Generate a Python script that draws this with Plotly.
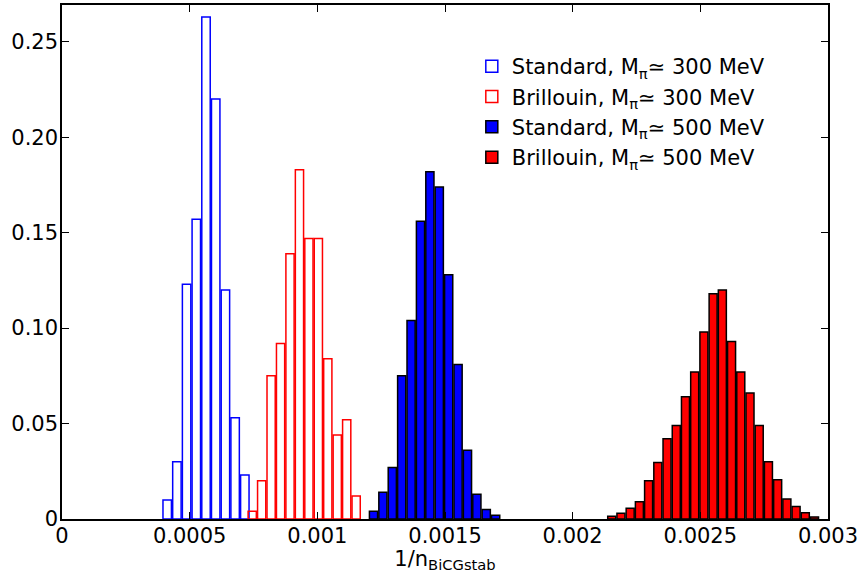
import numpy as np
import plotly.graph_objects as go

# ---- data (fractions per bin) ----
std300_start, std300_binw = 0.000412, 0.0000380
std300_frac = [0.010, 0.030, 0.123, 0.157, 0.263, 0.220, 0.120, 0.053, 0.023]

bri300_start, bri300_binw = 0.000745, 0.0000370
bri300_frac = [0.004, 0.020, 0.075, 0.092, 0.139, 0.183, 0.147, 0.147,
               0.084, 0.044, 0.052, 0.012]

std500_start, std500_binw = 0.001220, 0.0000368
std500_frac = [0.004, 0.014, 0.027, 0.075, 0.104, 0.156, 0.182, 0.174,
               0.128, 0.081, 0.036, 0.013, 0.005, 0.002]

bri500_start, bri500_binw = 0.002153, 0.0000361
bri500_frac = [0.0014, 0.003, 0.0056, 0.0091, 0.020, 0.0296, 0.042, 0.049,
               0.064, 0.077, 0.098, 0.118, 0.120, 0.093, 0.077, 0.066,
               0.049, 0.030, 0.0205, 0.0105, 0.0065, 0.0033, 0.0011]

x_tickvals = [0, 0.0005, 0.001, 0.0015, 0.002, 0.0025, 0.003]
x_ticktext = ["0", "0.0005", "0.001", "0.0015", "0.002", "0.0025", "0.003"]
y_tickvals = [0, 0.05, 0.10, 0.15, 0.20, 0.25]
y_ticktext = ["0", "0.05", "0.10", "0.15", "0.20", "0.25"]

names = ["Standard, M<sub>π</sub>≃ 300 MeV",
         "Brillouin, M<sub>π</sub>≃ 300 MeV",
         "Standard, M<sub>π</sub>≃ 500 MeV",
         "Brillouin, M<sub>π</sub>≃ 500 MeV"]

FONT = "DejaVu Sans"
FS = 21
fig = go.Figure()

series = [
    (std300_start, std300_binw, std300_frac, "rgba(0,0,0,0)", "#0000ff"),
    (bri300_start, bri300_binw, bri300_frac, "rgba(0,0,0,0)", "#ff0000"),
    (std500_start, std500_binw, std500_frac, "#0000ff", "#000000"),
    (bri500_start, bri500_binw, bri500_frac, "#ff0000", "#000000"),
]
for i, (start, bw, frac, fill, edge) in enumerate(series):
    centers = start + bw * np.arange(len(frac))
    fig.add_trace(go.Bar(
        x=centers, y=frac, width=[bw * 0.87] * len(frac),
        name=names[i], legendgroup=f"g{i}",
        marker=dict(color=fill, line=dict(color=edge, width=1.5)),
    ))

fig.update_layout(
    width=861, height=573,
    margin=dict(l=62, r=33, t=5, b=54),
    paper_bgcolor="white", plot_bgcolor="white",
    barmode="overlay",
    font=dict(family=FONT, size=FS, color="black"),
    showlegend=True,
    legend=dict(x=0.535, y=0.92, xanchor="left", yanchor="top",
                bgcolor="rgba(0,0,0,0)", borderwidth=0,
                font=dict(family=FONT, size=FS), tracegroupgap=0),
    xaxis=dict(range=[0, 0.003], tickvals=x_tickvals, ticktext=x_ticktext,
               ticks="inside", ticklen=7, tickwidth=1, tickcolor="black",
               showline=True, linecolor="black", linewidth=1.5, mirror="ticks",
               showgrid=False, zeroline=False, automargin=False,
               ticklabelstandoff=-3,
               title=dict(text="1/n<sub>BiCGstab</sub>", standoff=5,
                          font=dict(size=FS))),
    yaxis=dict(range=[0, 0.2693], tickvals=y_tickvals, ticktext=y_ticktext,
               ticks="inside", ticklen=7, tickwidth=1, tickcolor="black",
               showline=True, linecolor="black", linewidth=1.5, mirror="ticks",
               showgrid=False, zeroline=False, automargin=False,
               ticklabelstandoff=-2),
)

fig.write_html("out.html",
               config={"displayModeBar": False},
               post_script="document.body.style.margin='0px';"
                           "document.body.style.overflow='hidden';")
